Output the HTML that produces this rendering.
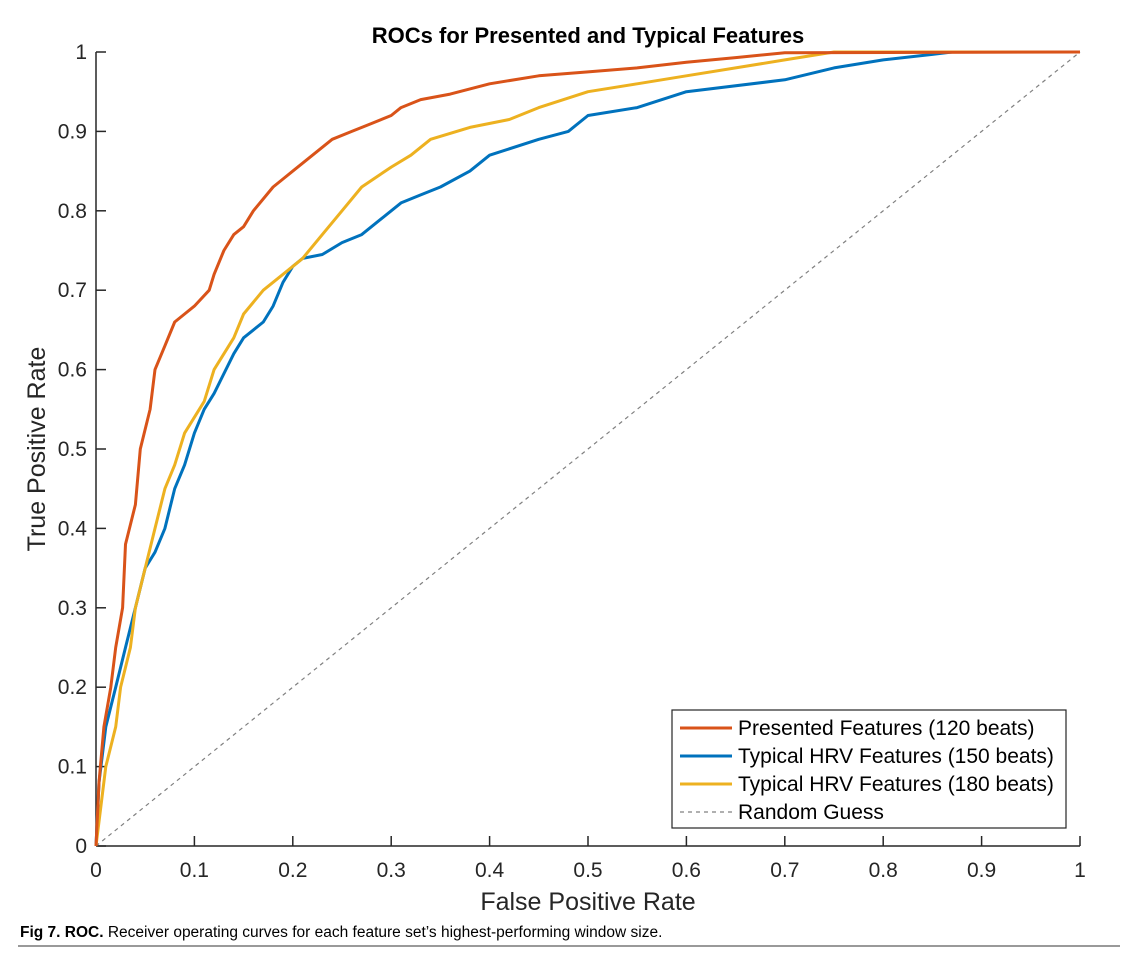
<!DOCTYPE html>
<html><head><meta charset="utf-8"><style>
body{margin:0;background:#fff;}
svg text{font-family:"Liberation Sans",sans-serif;}
</style></head><body>
<svg width="1137" height="952" viewBox="0 0 1137 952">
<g id="root"></g>
</svg>
<script>
const ticks=[0,0.1,0.2,0.3,0.4,0.5,0.6,0.7,0.8,0.9,1];
const tickLabels=["0","0.1","0.2","0.3","0.4","0.5","0.6","0.7","0.8","0.9","1"];
const seriesNames=["Presented Features (120 beats)","Typical HRV Features (150 beats)","Typical HRV Features (180 beats)","Random Guess"];
const redFpr=[0,0.003,0.008,0.015,0.02,0.027,0.03,0.04,0.045,0.055,0.06,0.07,0.08,0.09,0.1,0.115,0.12,0.13,0.14,0.15,0.16,0.18,0.19,0.2,0.22,0.24,0.26,0.28,0.3,0.31,0.33,0.36,0.4,0.45,0.5,0.55,0.6,0.65,0.7,1];
const redTpr=[0,0.08,0.15,0.2,0.25,0.3,0.38,0.43,0.5,0.55,0.6,0.63,0.66,0.67,0.68,0.7,0.72,0.75,0.77,0.78,0.8,0.83,0.84,0.85,0.87,0.89,0.9,0.91,0.92,0.93,0.94,0.947,0.96,0.97,0.975,0.98,0.987,0.993,0.999,1];
const blueFpr=[0,0.003,0.01,0.02,0.03,0.04,0.05,0.06,0.07,0.08,0.09,0.1,0.11,0.12,0.14,0.15,0.17,0.18,0.19,0.2,0.21,0.23,0.25,0.27,0.29,0.31,0.33,0.35,0.38,0.4,0.45,0.48,0.5,0.55,0.6,0.7,0.75,0.8,0.85,0.87,1];
const blueTpr=[0,0.08,0.15,0.2,0.25,0.3,0.35,0.37,0.4,0.45,0.48,0.52,0.55,0.57,0.62,0.64,0.66,0.68,0.71,0.73,0.74,0.745,0.76,0.77,0.79,0.81,0.82,0.83,0.85,0.87,0.89,0.9,0.92,0.93,0.95,0.965,0.98,0.99,0.997,1,1];
const yelFpr=[0,0.005,0.01,0.02,0.025,0.035,0.04,0.05,0.06,0.07,0.08,0.09,0.11,0.12,0.14,0.15,0.17,0.19,0.21,0.23,0.25,0.27,0.3,0.32,0.34,0.38,0.42,0.45,0.5,0.55,0.6,0.65,0.7,0.75,1];
const yelTpr=[0,0.05,0.1,0.15,0.2,0.25,0.3,0.35,0.4,0.45,0.48,0.52,0.56,0.6,0.64,0.67,0.7,0.72,0.74,0.77,0.8,0.83,0.855,0.87,0.89,0.905,0.915,0.93,0.95,0.96,0.97,0.98,0.99,1,1];

const X0=96,X1=1080,Y0=846,Y1=52;
const sx=v=>X0+v*(X1-X0), sy=v=>Y0-v*(Y0-Y1);
const root=document.getElementById('root');
const NS='http://www.w3.org/2000/svg';
function mk(tag,attrs,parent){const e=document.createElementNS(NS,tag);for(const k in attrs)e.setAttribute(k,attrs[k]);(parent||root).appendChild(e);return e;}

let t=mk('text',{x:588,y:43,'text-anchor':'middle','font-size':22,'font-weight':'bold',fill:'#000'});t.textContent='ROCs for Presented and Typical Features';



let ax=mk('line',{x1:X0,y1:Y0,x2:X1,y2:Y0,stroke:'#262626','stroke-width':1.5});


let ay=mk('line',{x1:X0,y1:Y0,x2:X0,y2:Y1,stroke:'#262626','stroke-width':1.5});


ticks.forEach((v,i)=>{
  let a=mk('line',{x1:sx(v),y1:Y0,x2:sx(v),y2:Y0-10,stroke:'#262626','stroke-width':1.5});
  
  
  let b=mk('line',{x1:X0,y1:sy(v),x2:X0+10,y2:sy(v),stroke:'#262626','stroke-width':1.5});
  
  
  let tx=mk('text',{x:sx(v),y:Y0+31,'text-anchor':'middle','font-size':21,fill:'#262626'});tx.textContent=tickLabels[i];
  
  
  let ty=mk('text',{x:X0-9,y:sy(v)+7,'text-anchor':'end','font-size':21,fill:'#262626'});ty.textContent=tickLabels[i];
  
  
});
let xl=mk('text',{x:588,y:910,'text-anchor':'middle','font-size':25,fill:'#262626'});xl.textContent='False Positive Rate';


let yl=mk('text',{x:0,y:0,'text-anchor':'middle','font-size':25,fill:'#262626',transform:'translate(45,449) rotate(-90)'});yl.textContent='True Positive Rate';



let rg=mk('line',{x1:sx(0),y1:sy(0),x2:sx(1),y2:sy(1),stroke:'#808080','stroke-width':1.2,'stroke-dasharray':'4,4'});



function curve(xs,ys,color,name){
  const pts=xs.map((v,i)=>sx(v).toFixed(1)+','+sy(ys[i]).toFixed(1)).join(' ');
  let p=mk('polyline',{points:pts,fill:'none',stroke:color,'stroke-width':3,'stroke-linejoin':'round'});
  
  
}
curve(blueFpr,blueTpr,'#0072bd','curve-150-beats');
curve(yelFpr,yelTpr,'#edb120','curve-180-beats');
curve(redFpr,redTpr,'#d95319','curve-presented-120-beats');

let lg=mk('g',{});


mk('rect',{x:672,y:710,width:394,height:118,fill:'#fff',stroke:'#262626','stroke-width':1.2},lg);
const cols=['#d95319','#0072bd','#edb120','#808080'];
const ly=[728,756,784,812];
seriesNames.forEach((n,i)=>{
  let e=mk('g',{},lg);
  
  
  const attrs={x1:680,y1:ly[i],x2:732,y2:ly[i],stroke:cols[i],'stroke-width':i==3?1.2:3};
  if(i==3)attrs['stroke-dasharray']='4,4';
  mk('line',attrs,e);
  let tt=mk('text',{x:738,y:ly[i]+7,'font-size':21,fill:'#000'},e);tt.textContent=n;
});

let cap=mk('text',{x:20,y:937,'font-size':15.5,fill:'#000'});


cap.innerHTML='<tspan font-weight="bold">Fig 7. ROC.</tspan> Receiver operating curves for each feature set’s highest-performing window size.';
let rule=mk('line',{x1:18,y1:946,x2:1120,y2:946,stroke:'#999','stroke-width':2});


</script>
</body></html>
